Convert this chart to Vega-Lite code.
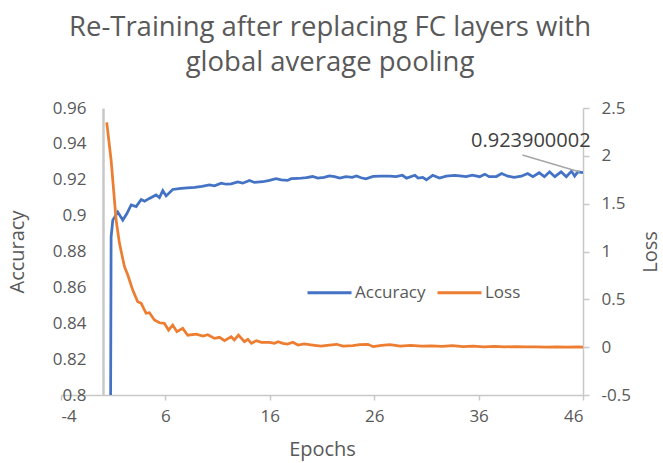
{
  "$schema": "https://vega.github.io/schema/vega-lite/v6.json",
  "width": 522,
  "height": 287,
  "autosize": {"type": "none"},
  "padding": {"left": 61, "top": 108, "right": 80, "bottom": 68},
  "background": "white",
  "config": {
    "view": {"stroke": null},
    "font": "Open Sans",
    "axis": {"grid": false, "labelFont": "Open Sans", "titleFont": "Open Sans", "labelColor": "#595959", "titleColor": "#595959", "labelFontSize": 17, "titleFontSize": 20, "titleFontWeight": "normal", "domainColor": "#C8C8C8", "tickColor": "#C8C8C8"}
  },
  "title": {
    "text": ["Re-Training after replacing FC layers with", "global average pooling"],
    "fontSize": 27.5,
    "fontWeight": "normal",
    "color": "#595959",
    "font": "Open Sans",
    "anchor": "middle",
    "lineHeight": 35,
    "offset": 23,
    "dx": 8
  },
  "encoding": {
    "x": {
      "field": "epoch",
      "type": "quantitative",
      "scale": {"domain": [-4, 46], "nice": false, "zero": false},
      "axis": {
        "title": "Epochs",
        "values": [-4, 6, 16, 26, 36, 46],
        "labelExpr": "replace(format(datum.value, '~g'), '\u2212', '-')",
        "domainWidth": 1.5,
        "tickSize": 5,
        "tickWidth": 1.5,
        "labelPadding": 8.5,
        "titlePadding": 15
      }
    }
  },
  "layer": [
    {
      "encoding": {
        "y": {
          "field": "accuracy",
          "type": "quantitative",
          "scale": {"domain": [0.8, 0.96], "nice": false, "zero": false},
          "axis": {
            "title": "Accuracy",
            "orient": "left",
            "offset": -42,
            "values": [0.8, 0.82, 0.84, 0.86, 0.88, 0.9, 0.92, 0.94, 0.96],
            "format": ".2~f",
            "ticks": false,
            "labelPadding": 17,
            "domainWidth": 2.5,
            "titlePadding": 25
          }
        }
      },
      "layer": [
        {
          "data": {"values": [
            {"epoch": 0.38, "accuracy": 0.1}, {"epoch": 0.8, "accuracy": 0.888}, {"epoch": 0.96, "accuracy": 0.8975},
            {"epoch": 1.44, "accuracy": 0.902}, {"epoch": 1.92, "accuracy": 0.8975}, {"epoch": 2.3, "accuracy": 0.901},
            {"epoch": 2.72, "accuracy": 0.906}, {"epoch": 3.2, "accuracy": 0.905}, {"epoch": 3.68, "accuracy": 0.909},
            {"epoch": 4.0, "accuracy": 0.908}, {"epoch": 4.47, "accuracy": 0.9096}, {"epoch": 5.1, "accuracy": 0.9115},
            {"epoch": 5.43, "accuracy": 0.91}, {"epoch": 5.75, "accuracy": 0.9139}, {"epoch": 6.07, "accuracy": 0.911},
            {"epoch": 6.7, "accuracy": 0.9146}, {"epoch": 7.5, "accuracy": 0.9152}, {"epoch": 8.1, "accuracy": 0.9155},
            {"epoch": 8.8, "accuracy": 0.9157}, {"epoch": 9.5, "accuracy": 0.9163}, {"epoch": 10.22, "accuracy": 0.9171},
            {"epoch": 10.7, "accuracy": 0.9166}, {"epoch": 11.34, "accuracy": 0.9181}, {"epoch": 11.82, "accuracy": 0.9175},
            {"epoch": 12.3, "accuracy": 0.9177}, {"epoch": 12.93, "accuracy": 0.9188}, {"epoch": 13.41, "accuracy": 0.9181},
            {"epoch": 14.05, "accuracy": 0.9196}, {"epoch": 14.53, "accuracy": 0.9185}, {"epoch": 15.33, "accuracy": 0.9189},
            {"epoch": 15.97, "accuracy": 0.9197}, {"epoch": 16.6, "accuracy": 0.9206}, {"epoch": 17.1, "accuracy": 0.9199},
            {"epoch": 17.7, "accuracy": 0.9196}, {"epoch": 18.05, "accuracy": 0.9206}, {"epoch": 18.7, "accuracy": 0.9207},
            {"epoch": 19.5, "accuracy": 0.9212}, {"epoch": 20.1, "accuracy": 0.9218}, {"epoch": 20.6, "accuracy": 0.9209},
            {"epoch": 21.2, "accuracy": 0.9213}, {"epoch": 21.7, "accuracy": 0.9221}, {"epoch": 22.2, "accuracy": 0.9217},
            {"epoch": 22.7, "accuracy": 0.9209}, {"epoch": 23.3, "accuracy": 0.9217}, {"epoch": 23.9, "accuracy": 0.9213},
            {"epoch": 24.3, "accuracy": 0.9221}, {"epoch": 24.75, "accuracy": 0.9211}, {"epoch": 25.2, "accuracy": 0.9205},
            {"epoch": 25.9, "accuracy": 0.9219}, {"epoch": 26.7, "accuracy": 0.922}, {"epoch": 27.5, "accuracy": 0.922},
            {"epoch": 28.1, "accuracy": 0.9217}, {"epoch": 28.7, "accuracy": 0.9225}, {"epoch": 29.1, "accuracy": 0.9209},
            {"epoch": 29.9, "accuracy": 0.9225}, {"epoch": 30.2, "accuracy": 0.9209}, {"epoch": 30.65, "accuracy": 0.9213},
            {"epoch": 31.0, "accuracy": 0.92}, {"epoch": 31.6, "accuracy": 0.9225}, {"epoch": 32.25, "accuracy": 0.9209},
            {"epoch": 32.9, "accuracy": 0.922}, {"epoch": 33.7, "accuracy": 0.9225}, {"epoch": 34.2, "accuracy": 0.9222},
            {"epoch": 34.8, "accuracy": 0.9217}, {"epoch": 35.4, "accuracy": 0.9225}, {"epoch": 36.1, "accuracy": 0.9217},
            {"epoch": 36.6, "accuracy": 0.9231}, {"epoch": 37.0, "accuracy": 0.9217}, {"epoch": 37.7, "accuracy": 0.9218},
            {"epoch": 38.2, "accuracy": 0.9235}, {"epoch": 38.8, "accuracy": 0.922}, {"epoch": 39.4, "accuracy": 0.9214},
            {"epoch": 40.1, "accuracy": 0.922}, {"epoch": 40.7, "accuracy": 0.9235}, {"epoch": 41.2, "accuracy": 0.9217},
            {"epoch": 41.8, "accuracy": 0.9239}, {"epoch": 42.3, "accuracy": 0.9217}, {"epoch": 42.8, "accuracy": 0.9244},
            {"epoch": 43.3, "accuracy": 0.9217}, {"epoch": 43.9, "accuracy": 0.9244}, {"epoch": 44.4, "accuracy": 0.9217},
            {"epoch": 44.9, "accuracy": 0.9248}, {"epoch": 45.2, "accuracy": 0.922}, {"epoch": 45.5, "accuracy": 0.9244},
            {"epoch": 46.0, "accuracy": 0.9239}
          ]},
          "transform": [{"calculate": "'Accuracy'", "as": "series"}],
          "mark": {"type": "line", "strokeWidth": 2.75, "clip": true},
          "encoding": {
            "color": {
              "field": "series",
              "type": "nominal",
              "scale": {"domain": ["Accuracy", "Loss"], "range": ["#4472C4", "#ED7D31"]},
              "legend": {
                "title": null,
                "orient": "none",
                "legendX": 245,
                "legendY": 161,
                "direction": "horizontal",
                "symbolType": "stroke",
                "symbolSize": 1936,
                "symbolStrokeWidth": 3,
                "labelFontSize": 17,
                "labelColor": "#595959",
                "labelFont": "Open Sans",
                "labelOffset": 2,
                "columnPadding": 5
              }
            }
          }
        },
        {
          "data": {"values": [{"epoch": 45.7, "accuracy": 0.9243, "epoch2": 40.2, "accuracy2": 0.9338}]},
          "mark": {"type": "rule", "color": "#A6A6A6", "strokeWidth": 1.5},
          "encoding": {
            "x2": {"field": "epoch2"},
            "y2": {"field": "accuracy2"}
          }
        },
        {
          "data": {"values": [{"epoch": 41.0, "accuracy": 0.9416, "label": "0.923900002"}]},
          "mark": {"type": "text", "fontSize": 20, "color": "#404040", "font": "Open Sans", "align": "center", "baseline": "middle"},
          "encoding": {"text": {"field": "label"}}
        }
      ]
    },
    {
      "data": {"values": [
        {"epoch": 0.38, "loss": 2.35}, {"epoch": 0.8, "loss": 1.956}, {"epoch": 1.12, "loss": 1.538},
        {"epoch": 1.28, "loss": 1.329}, {"epoch": 1.6, "loss": 1.085}, {"epoch": 2.08, "loss": 0.841},
        {"epoch": 2.4, "loss": 0.754}, {"epoch": 2.87, "loss": 0.597}, {"epoch": 3.35, "loss": 0.475},
        {"epoch": 3.68, "loss": 0.458}, {"epoch": 4.15, "loss": 0.354}, {"epoch": 4.47, "loss": 0.36},
        {"epoch": 4.95, "loss": 0.284}, {"epoch": 5.43, "loss": 0.255}, {"epoch": 5.9, "loss": 0.249},
        {"epoch": 6.3, "loss": 0.179}, {"epoch": 6.7, "loss": 0.231}, {"epoch": 7.1, "loss": 0.162},
        {"epoch": 7.66, "loss": 0.197}, {"epoch": 8.14, "loss": 0.125}, {"epoch": 8.95, "loss": 0.137},
        {"epoch": 9.6, "loss": 0.117}, {"epoch": 10.06, "loss": 0.13}, {"epoch": 10.7, "loss": 0.092},
        {"epoch": 11.18, "loss": 0.103}, {"epoch": 11.66, "loss": 0.068}, {"epoch": 12.3, "loss": 0.109},
        {"epoch": 12.6, "loss": 0.075}, {"epoch": 13.0, "loss": 0.127}, {"epoch": 13.57, "loss": 0.057},
        {"epoch": 13.9, "loss": 0.082}, {"epoch": 14.24, "loss": 0.04}, {"epoch": 14.72, "loss": 0.068},
        {"epoch": 15.2, "loss": 0.051}, {"epoch": 15.97, "loss": 0.051}, {"epoch": 16.45, "loss": 0.04},
        {"epoch": 16.8, "loss": 0.057}, {"epoch": 17.24, "loss": 0.04}, {"epoch": 17.7, "loss": 0.033},
        {"epoch": 18.2, "loss": 0.051}, {"epoch": 18.7, "loss": 0.022}, {"epoch": 19.3, "loss": 0.033},
        {"epoch": 20.1, "loss": 0.022}, {"epoch": 20.9, "loss": 0.012}, {"epoch": 21.7, "loss": 0.022},
        {"epoch": 22.4, "loss": 0.03}, {"epoch": 23.0, "loss": 0.012}, {"epoch": 23.95, "loss": 0.015},
        {"epoch": 24.6, "loss": 0.026}, {"epoch": 25.4, "loss": 0.03}, {"epoch": 25.9, "loss": 0.005},
        {"epoch": 26.7, "loss": 0.019}, {"epoch": 27.5, "loss": 0.026}, {"epoch": 28.5, "loss": 0.012},
        {"epoch": 29.5, "loss": 0.018}, {"epoch": 30.5, "loss": 0.01}, {"epoch": 31.5, "loss": 0.014},
        {"epoch": 32.5, "loss": 0.008}, {"epoch": 33.5, "loss": 0.015}, {"epoch": 34.5, "loss": 0.006},
        {"epoch": 35.5, "loss": 0.01}, {"epoch": 36.5, "loss": 0.004}, {"epoch": 37.5, "loss": 0.008},
        {"epoch": 38.5, "loss": 0.003}, {"epoch": 39.5, "loss": 0.006}, {"epoch": 40.5, "loss": 0.002},
        {"epoch": 41.5, "loss": 0.004}, {"epoch": 42.5, "loss": 0.001}, {"epoch": 43.5, "loss": 0.003},
        {"epoch": 44.5, "loss": 0.001}, {"epoch": 45.5, "loss": 0.002}, {"epoch": 46.0, "loss": 0.0}
      ]},
      "transform": [{"calculate": "'Loss'", "as": "series"}],
      "mark": {"type": "line", "strokeWidth": 2.75, "clip": true},
      "encoding": {
        "y": {
          "field": "loss",
          "type": "quantitative",
          "scale": {"domain": [-0.5, 2.5], "nice": false, "zero": false},
          "axis": {
            "title": "Loss",
            "orient": "right",
            "values": [-0.5, 0, 0.5, 1, 1.5, 2, 2.5],
            "labelExpr": "replace(format(datum.value, '.1~f'), '\u2212', '-')",
            "tickSize": 6,
            "tickWidth": 1.5,
            "domainWidth": 1.5,
            "labelPadding": 12,
            "titleAngle": 270,
            "titlePadding": 30
          }
        },
        "color": {"field": "series", "type": "nominal"}
      }
    }
  ],
  "resolve": {"scale": {"y": "independent"}}
}
